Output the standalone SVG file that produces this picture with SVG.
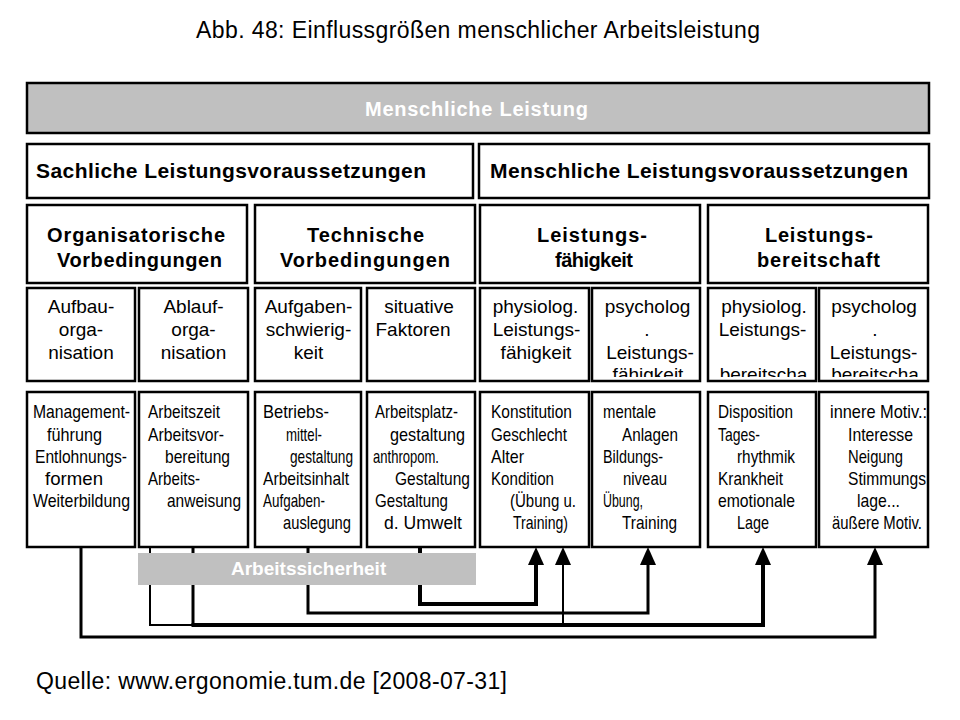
<svg xmlns="http://www.w3.org/2000/svg" width="960" height="720" viewBox="0 0 960 720">
<style>
text{font-family:"Liberation Sans",Arial,sans-serif;fill:#000}
.box{fill:#fff;stroke:#000;stroke-width:2.5}
.gbox{fill:#c0c0c0;stroke:#000;stroke-width:2.5}
.bar{fill:#c0c0c0}
.b{font-weight:bold}
.w{fill:#fff}
.h3{font-size:20px;font-weight:bold}
.r4{font-size:19px;text-anchor:middle}
.r5{font-size:19px}
.ln{fill:none;stroke:#000;stroke-linejoin:miter;stroke-linecap:butt}
</style>
<defs>
<marker id="ah" markerUnits="userSpaceOnUse" markerWidth="18" markerHeight="16" viewBox="0 0 18 16" refX="0" refY="8" orient="auto"><path d="M0,0 L18,8 L0,16 z" fill="#000"/></marker>
<clipPath id="c4"><rect x="0" y="288" width="960" height="89"/></clipPath>
</defs>
<rect width="960" height="720" fill="#fff"/>
<text x="196" y="38" font-size="23" textLength="564">Abb. 48: Einflussgrößen menschlicher Arbeitsleistung</text>

<g id="menschliche-leistung">
<rect class="gbox" x="27" y="83" width="902" height="50"/>
<text class="b w" x="365" y="116" font-size="20" textLength="223">Menschliche Leistung</text>
</g>
<g id="sachliche-lv">
<rect class="box" x="27" y="144" width="446" height="54"/>
<text class="b" x="36" y="178" font-size="21" textLength="390">Sachliche Leistungsvoraussetzungen</text>
</g>
<g id="menschliche-lv">
<rect class="box" x="479" y="144" width="450" height="54"/>
<text class="b" x="490" y="178" font-size="21" textLength="418">Menschliche Leistungsvoraussetzungen</text>
</g>

<g id="org-vorbedingungen">
<rect class="box" x="27" y="205" width="220" height="78"/>
<text class="h3" x="47" y="242" textLength="178">Organisatorische</text>
<text class="h3" x="57" y="267" textLength="165">Vorbedingungen</text>
</g>
<g id="tech-vorbedingungen">
<rect class="box" x="255" y="205" width="220" height="78"/>
<text class="h3" x="307" y="242" textLength="117">Technische</text>
<text class="h3" x="280" y="267" textLength="170">Vorbedingungen</text>
</g>
<g id="leistungsfaehigkeit">
<rect class="box" x="480" y="205" width="220" height="78"/>
<text class="h3" x="537" y="242" textLength="110">Leistungs-</text>
<text class="h3" x="555" y="267" textLength="78">fähigkeit</text>
</g>
<g id="leistungsbereitschaft">
<rect class="box" x="708" y="205" width="220" height="78"/>
<text class="h3" x="765" y="242" textLength="108">Leistungs-</text>
<text class="h3" x="757" y="267" textLength="123">bereitschaft</text>
</g>

<g id="aufbauorganisation">
<rect class="box" x="27" y="288" width="108" height="93"/>
<text class="r4" x="81" y="313">Aufbau-</text>
<text class="r4" x="81" y="336">orga-</text>
<text class="r4" x="81" y="359">nisation</text>
</g>
<g id="ablauforganisation">
<rect class="box" x="139" y="288" width="109" height="93"/>
<text class="r4" x="193.5" y="313">Ablauf-</text>
<text class="r4" x="193.5" y="336">orga-</text>
<text class="r4" x="193.5" y="359">nisation</text>
</g>
<g id="aufgabenschwierigkeit">
<rect class="box" x="255" y="288" width="106" height="93"/>
<text class="r4" x="308.5" y="313">Aufgaben-</text>
<text class="r4" x="308.5" y="336">schwierig-</text>
<text class="r4" x="308.5" y="359">keit</text>
</g>
<g id="situative-faktoren">
<rect class="box" x="367" y="288" width="108" height="93"/>
<text class="r4" x="419" y="313">situative</text>
<text class="r4" x="413" y="336">Faktoren</text>
</g>
<g id="physiolog-lf">
<rect class="box" x="480" y="288" width="109" height="93"/>
<text class="r4" x="535.5" y="313">physiolog.</text>
<text class="r4" x="536.5" y="336">Leistungs-</text>
<text class="r4" x="536" y="359">fähigkeit</text>
</g>
<g id="psycholog-lf">
<rect class="box" x="592" y="288" width="108" height="93"/>
<g clip-path="url(#c4)">
<text class="r4" x="647.5" y="313">psycholog</text>
<text class="r4" x="647" y="336">.</text>
<text class="r4" x="650" y="359">Leistungs-</text>
<text class="r4" x="648" y="381">fähigkeit</text>
</g>
</g>
<g id="physiolog-lb">
<rect class="box" x="708" y="288" width="108" height="93"/>
<g clip-path="url(#c4)">
<text class="r4" x="764" y="313">physiolog.</text>
<text class="r4" x="762.5" y="336">Leistungs-</text>
<text class="r4" x="763.5" y="381">bereitscha</text>
</g>
</g>
<g id="psycholog-lb">
<rect class="box" x="819" y="288" width="109" height="93"/>
<g clip-path="url(#c4)">
<text class="r4" x="874" y="313">psycholog</text>
<text class="r4" x="875" y="336">.</text>
<text class="r4" x="873.5" y="359">Leistungs-</text>
<text class="r4" x="875" y="381">bereitscha</text>
</g>
</g>

<g id="detail-aufbau">
<rect class="box" x="27" y="392" width="108" height="155"/>
<text class="r5" x="33" y="418" textLength="97" lengthAdjust="spacingAndGlyphs">Management-</text>
<text class="r5" x="47" y="441" textLength="55" lengthAdjust="spacingAndGlyphs">führung</text>
<text class="r5" x="35" y="463" textLength="92" lengthAdjust="spacingAndGlyphs">Entlohnungs-</text>
<text class="r5" x="45" y="485" textLength="58" lengthAdjust="spacingAndGlyphs">formen</text>
<text class="r5" x="33" y="507" textLength="97" lengthAdjust="spacingAndGlyphs">Weiterbildung</text>
</g>
<g id="detail-ablauf">
<rect class="box" x="139" y="392" width="109" height="155"/>
<text class="r5" x="148" y="418" textLength="72" lengthAdjust="spacingAndGlyphs">Arbeitszeit</text>
<text class="r5" x="148" y="441" textLength="76" lengthAdjust="spacingAndGlyphs">Arbeitsvor-</text>
<text class="r5" x="165" y="463" textLength="65" lengthAdjust="spacingAndGlyphs">bereitung</text>
<text class="r5" x="148" y="485" textLength="52" lengthAdjust="spacingAndGlyphs">Arbeits-</text>
<text class="r5" x="167" y="507" textLength="74" lengthAdjust="spacingAndGlyphs">anweisung</text>
</g>
<g id="detail-aufgaben">
<rect class="box" x="255" y="392" width="106" height="155"/>
<text class="r5" x="263" y="418" textLength="66" lengthAdjust="spacingAndGlyphs">Betriebs-</text>
<text class="r5" x="286" y="441" textLength="36" lengthAdjust="spacingAndGlyphs">mittel-</text>
<text class="r5" x="290" y="463" textLength="63" lengthAdjust="spacingAndGlyphs">gestaltung</text>
<text class="r5" x="263" y="485" textLength="86" lengthAdjust="spacingAndGlyphs">Arbeitsinhalt</text>
<text class="r5" x="263" y="507" textLength="62" lengthAdjust="spacingAndGlyphs">Aufgaben-</text>
<text class="r5" x="283" y="529" textLength="68" lengthAdjust="spacingAndGlyphs">auslegung</text>
</g>
<g id="detail-situativ">
<rect class="box" x="367" y="392" width="108" height="155"/>
<text class="r5" x="375" y="418" textLength="83" lengthAdjust="spacingAndGlyphs">Arbeitsplatz-</text>
<text class="r5" x="390" y="441" textLength="75" lengthAdjust="spacingAndGlyphs">gestaltung</text>
<text class="r5" x="373" y="463" textLength="66" lengthAdjust="spacingAndGlyphs">anthropom.</text>
<text class="r5" x="395" y="485" textLength="75" lengthAdjust="spacingAndGlyphs">Gestaltung</text>
<text class="r5" x="375" y="507" textLength="73" lengthAdjust="spacingAndGlyphs">Gestaltung</text>
<text class="r5" x="384" y="529" textLength="78" lengthAdjust="spacingAndGlyphs">d. Umwelt</text>
</g>
<g id="detail-physiolog-lf">
<rect class="box" x="480" y="392" width="109" height="155"/>
<text class="r5" x="491" y="418" textLength="81" lengthAdjust="spacingAndGlyphs">Konstitution</text>
<text class="r5" x="491" y="441" textLength="76" lengthAdjust="spacingAndGlyphs">Geschlecht</text>
<text class="r5" x="491" y="463" textLength="33" lengthAdjust="spacingAndGlyphs">Alter</text>
<text class="r5" x="491" y="485" textLength="63" lengthAdjust="spacingAndGlyphs">Kondition</text>
<text class="r5" x="510" y="507" textLength="66" lengthAdjust="spacingAndGlyphs">(Übung u.</text>
<text class="r5" x="513" y="529" textLength="55" lengthAdjust="spacingAndGlyphs">Training)</text>
</g>
<g id="detail-psycholog-lf">
<rect class="box" x="592" y="392" width="108" height="155"/>
<text class="r5" x="603" y="418" textLength="53" lengthAdjust="spacingAndGlyphs">mentale</text>
<text class="r5" x="622" y="441" textLength="56" lengthAdjust="spacingAndGlyphs">Anlagen</text>
<text class="r5" x="603" y="463" textLength="60" lengthAdjust="spacingAndGlyphs">Bildungs-</text>
<text class="r5" x="623" y="485" textLength="44" lengthAdjust="spacingAndGlyphs">niveau</text>
<text class="r5" x="603" y="507" textLength="40" lengthAdjust="spacingAndGlyphs">Übung,</text>
<text class="r5" x="622" y="529" textLength="55" lengthAdjust="spacingAndGlyphs">Training</text>
</g>
<g id="detail-physiolog-lb">
<rect class="box" x="708" y="392" width="108" height="155"/>
<text class="r5" x="718" y="418" textLength="75" lengthAdjust="spacingAndGlyphs">Disposition</text>
<text class="r5" x="718" y="441" textLength="42" lengthAdjust="spacingAndGlyphs">Tages-</text>
<text class="r5" x="737" y="463" textLength="58" lengthAdjust="spacingAndGlyphs">rhythmik</text>
<text class="r5" x="718" y="485" textLength="65" lengthAdjust="spacingAndGlyphs">Krankheit</text>
<text class="r5" x="718" y="507" textLength="77" lengthAdjust="spacingAndGlyphs">emotionale</text>
<text class="r5" x="737" y="529" textLength="32" lengthAdjust="spacingAndGlyphs">Lage</text>
</g>
<g id="detail-psycholog-lb">
<rect class="box" x="819" y="392" width="109" height="155"/>
<text class="r5" x="830" y="418" textLength="97" lengthAdjust="spacingAndGlyphs">innere Motiv.:</text>
<text class="r5" x="848" y="441" textLength="65" lengthAdjust="spacingAndGlyphs">Interesse</text>
<text class="r5" x="848" y="463" textLength="55" lengthAdjust="spacingAndGlyphs">Neigung</text>
<text class="r5" x="848" y="485" textLength="78" lengthAdjust="spacingAndGlyphs">Stimmungs</text>
<text class="r5" x="857" y="507" textLength="43" lengthAdjust="spacingAndGlyphs">lage...</text>
<text class="r5" x="832" y="529" textLength="90" lengthAdjust="spacingAndGlyphs">äußere Motiv.</text>
</g>

<g id="connectors">
<path class="ln" stroke-width="3" d="M81 547 V637 H875 V565" marker-end="url(#ah)"/>
<path class="ln" stroke-width="2" d="M150 547 V625 H194"/>
<path class="ln" stroke-width="3" d="M193 547 V625"/>
<path class="ln" stroke-width="4" d="M191.5 625 H763 V565" marker-end="url(#ah)"/>
<path class="ln" stroke-width="2" d="M563 625 V565" marker-end="url(#ah)"/>
<path class="ln" stroke-width="3" d="M308 547 V613 H648 V565" marker-end="url(#ah)"/>
<path class="ln" stroke-width="4" d="M420 547 V604 H536 V565" marker-end="url(#ah)"/>
</g>

<g id="arbeitssicherheit">
<rect class="bar" x="138" y="553" width="338" height="32"/>
<text class="b w" x="231" y="575" font-size="19">Arbeitssicherheit</text>
</g>

<text x="36" y="689" font-size="23" textLength="471">Quelle: www.ergonomie.tum.de [2008-07-31]</text>
</svg>
